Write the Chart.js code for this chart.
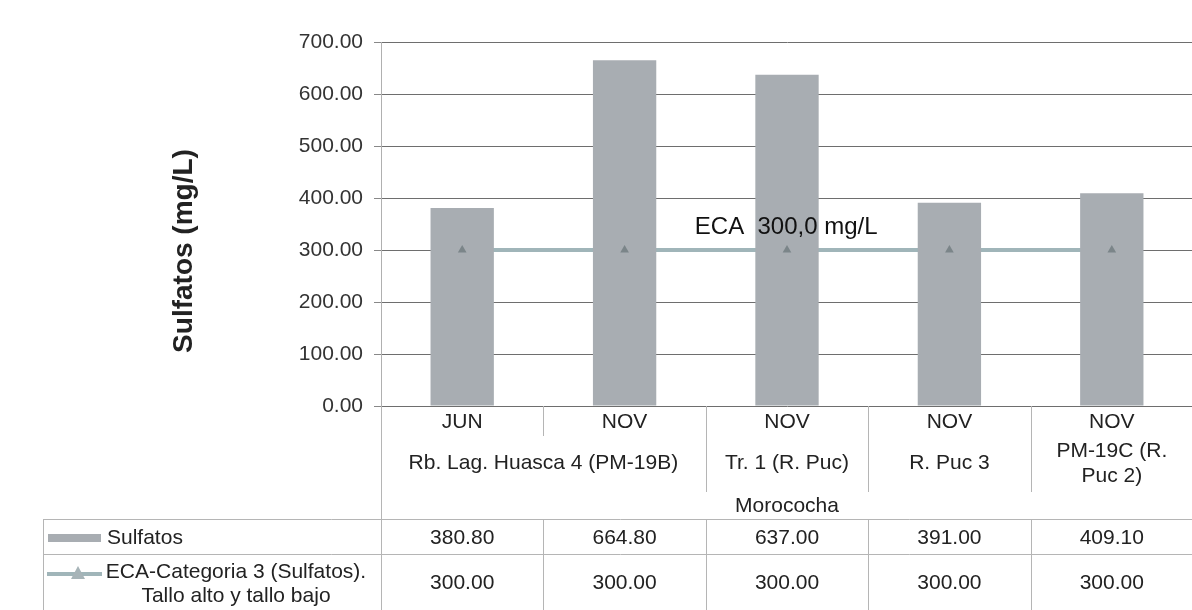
<!DOCTYPE html>
<html>
<head>
<meta charset="utf-8">
<script src="https://cdn.jsdelivr.net/npm/chart.js@4/dist/chart.umd.min.js"></script>
<style>
  html, body { margin: 0; padding: 0; background: #fff; overflow: hidden; }
  #wrap { width: 1198px; height: 610px; }
</style>
</head>
<body>
<div id="wrap"><canvas id="sulfatosChart" width="1198" height="610"></canvas></div>
<script>
// Data
const meses = ['JUN', 'NOV', 'NOV', 'NOV', 'NOV'];
const sitios = ['Rb. Lag. Huasca 4 (PM-19B)', 'Tr. 1 (R. Puc)', 'R. Puc 3', ['PM-19C (R.', 'Puc 2)']];
const sitiosSpan = [2, 1, 1, 1];
const zona = 'Morococha';
const sulfatos = [380.80, 664.80, 637.00, 391.00, 409.10];
const eca = [300, 300, 300, 300, 300];
const yMin = 0, yMax = 700, yStep = 100;

const FONT = '"Liberation Sans", Arial, sans-serif';
const barColor = '#a8adb2';
const lineColor = '#a0b5b9';
const markerColor = '#7b8589';
const sepColor = '#b5b5b5';

// Axis title, annotation, multi-level category labels and the data table
const tablePlugin = {
    id: 'tablePlugin',
    afterDraw(chart) {
        const ctx = chart.ctx;
        const x = chart.scales.x;
        const y = chart.scales.y;
        const area = chart.chartArea;
        const half = (x.getPixelForValue(1) - x.getPixelForValue(0)) / 2;
        const right = chart.width;
        ctx.save();

        // y axis title
        ctx.save();
        ctx.translate(184, 251);
        ctx.rotate(-Math.PI / 2);
        ctx.font = 'bold 28px ' + FONT;
        ctx.fillStyle = '#222';
        ctx.textAlign = 'center';
        ctx.textBaseline = 'middle';
        ctx.fillText('Sulfatos (mg/L)', 0, 0);
        ctx.restore();

        // ECA annotation
        ctx.font = '24px ' + FONT;
        ctx.fillStyle = '#111';
        ctx.textAlign = 'left';
        ctx.textBaseline = 'middle';
        ctx.fillText('ECA  300,0 mg/L', x.getPixelForValue(1) + half - 11, y.getPixelForValue(eca[2]) - 23);

        ctx.strokeStyle = sepColor;
        ctx.lineWidth = 1;
        const vline = (px, y0, y1) => {
            ctx.beginPath();
            ctx.moveTo(Math.round(px) + 0.5, y0);
            ctx.lineTo(Math.round(px) + 0.5, y1);
            ctx.stroke();
        };
        const hline = (py, x0, x1) => {
            ctx.beginPath();
            ctx.moveTo(x0, Math.round(py) + 0.5);
            ctx.lineTo(x1, Math.round(py) + 0.5);
            ctx.stroke();
        };

        // axis line continues through labels and table
        vline(area.left, area.bottom, chart.height);

        // row 1: months
        ctx.font = '21px ' + FONT;
        ctx.fillStyle = '#222';
        ctx.textAlign = 'center';
        meses.forEach((m, i) => ctx.fillText(m, x.getPixelForValue(i), area.bottom + 16));

        // row 2: sites
        let idx = 0;
        sitios.forEach((s, k) => {
            const span = sitiosSpan[k];
            const cx = (x.getPixelForValue(idx) + x.getPixelForValue(idx + span - 1)) / 2;
            if (Array.isArray(s)) {
                ctx.fillText(s[0], cx, area.bottom + 45);
                ctx.fillText(s[1], cx, area.bottom + 70);
            } else {
                ctx.fillText(s, cx, area.bottom + 57);
            }
            // separators
            for (let j = idx + 1; j < idx + span; j++) {
                vline(x.getPixelForValue(j) - half, area.bottom, area.bottom + 30);
            }
            idx += span;
            if (idx < meses.length) {
                vline(x.getPixelForValue(idx) - half, area.bottom, area.bottom + 86);
            }
        });

        // row 3: zone
        ctx.fillText(zona, (area.left + area.right) / 2, area.bottom + 100);

        // data table
        const t0 = area.bottom + 113, t1 = area.bottom + 148, t2 = chart.height;
        const tLeft = 43;
        hline(t0, tLeft, right);
        hline(t1, tLeft, right);
        vline(tLeft, t0, t2);
        for (let i = 1; i < meses.length; i++) {
            vline(x.getPixelForValue(i) - half, t0, t2);
        }

        // legend keys
        ctx.fillStyle = barColor;
        ctx.fillRect(48, t0 + 15, 53, 8);
        ctx.strokeStyle = lineColor;
        ctx.lineWidth = 4;
        ctx.beginPath();
        ctx.moveTo(47, t1 + 20);
        ctx.lineTo(102, t1 + 20);
        ctx.stroke();
        ctx.fillStyle = '#a7b4b8';
        ctx.beginPath();
        ctx.moveTo(78, t1 + 12);
        ctx.lineTo(85, t1 + 25);
        ctx.lineTo(71, t1 + 25);
        ctx.closePath();
        ctx.fill();

        ctx.fillStyle = '#222';
        ctx.font = '21px ' + FONT;
        ctx.textAlign = 'left';
        ctx.fillText('Sulfatos', 107, t0 + 19);
        ctx.textAlign = 'center';
        ctx.fillText('ECA-Categoria 3 (Sulfatos).', 236, t1 + 18);
        ctx.fillText('Tallo alto y tallo bajo', 236, t1 + 42);

        sulfatos.forEach((v, i) => ctx.fillText(v.toFixed(2), x.getPixelForValue(i), t0 + 19));
        eca.forEach((v, i) => ctx.fillText(v.toFixed(2), x.getPixelForValue(i), t1 + 29));

        ctx.restore();
    }
};

const ctx = document.getElementById('sulfatosChart').getContext('2d');
const sulfatosChart = new Chart(ctx, {
    type: 'bar',
    data: {
        labels: meses,
        datasets: [{
            label: 'Sulfatos',
            data: sulfatos,
            backgroundColor: barColor,
            barPercentage: 0.39,
            categoryPercentage: 1,
            order: 1
        }, {
            type: 'line',
            label: 'ECA-Categoria 3 (Sulfatos). Tallo alto y tallo bajo',
            data: eca,
            borderColor: lineColor,
            borderWidth: 4,
            pointRadius: 0,
            order: 2
        }, {
            type: 'line',
            label: 'ECA marcadores',
            data: eca,
            showLine: false,
            pointStyle: 'triangle',
            pointRadius: 5,
            pointBackgroundColor: markerColor,
            pointBorderColor: markerColor,
            pointBorderWidth: 0,
            order: 0
        }]
    },
    options: {
        responsive: false,
        animation: false,
        layout: { padding: { top: 42, bottom: 204, left: 0, right: 0 } },
        scales: {
            x: { display: false },
            y: {
                min: yMin,
                max: yMax,
                ticks: {
                    stepSize: yStep,
                    padding: 11,
                    color: '#333',
                    font: { family: FONT, size: 21 },
                    callback: v => v.toFixed(2)
                },
                grid: { color: '#6e6e6e', lineWidth: 1, tickLength: 7, tickColor: '#888' },
                border: { display: true, color: '#b0b0b0' },
                afterFit(scale) { scale.width = 381; }
            }
        },
        plugins: {
            legend: { display: false },
            tooltip: { enabled: false }
        }
    },
    plugins: [tablePlugin]
});
</script>
</body>
</html>
